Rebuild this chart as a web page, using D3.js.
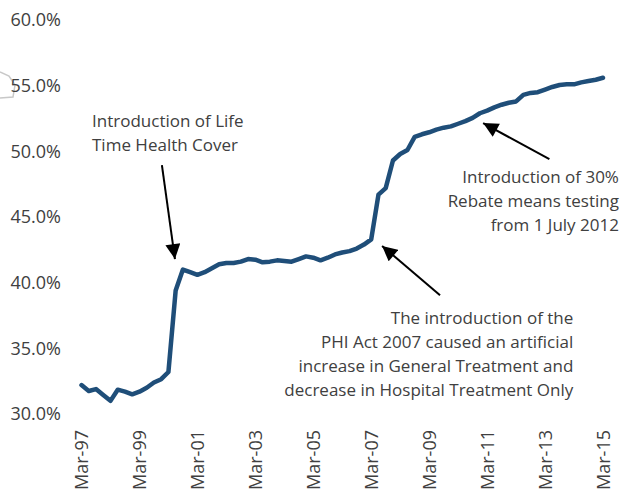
<!DOCTYPE html>
<html>
<head>
<meta charset="utf-8">
<script src="https://cdn.jsdelivr.net/npm/d3@7"></script>
<style>
  body { margin: 0; background: #fff; }
  svg text { font-family: "Open Sans", sans-serif; fill: #404040; }
</style>
</head>
<body>
<div id="chart"></div>
<script>
const width = 622, height = 496;

// quarterly categories, Mar-97 .. Mar-15
const quarters = [
  "Mar-97","Jun-97","Sep-97","Dec-97","Mar-98","Jun-98","Sep-98","Dec-98",
  "Mar-99","Jun-99","Sep-99","Dec-99","Mar-00","Jun-00","Sep-00","Dec-00",
  "Mar-01","Jun-01","Sep-01","Dec-01","Mar-02","Jun-02","Sep-02","Dec-02",
  "Mar-03","Jun-03","Sep-03","Dec-03","Mar-04","Jun-04","Sep-04","Dec-04",
  "Mar-05","Jun-05","Sep-05","Dec-05","Mar-06","Jun-06","Sep-06","Dec-06",
  "Mar-07","Jun-07","Sep-07","Dec-07","Mar-08","Jun-08","Sep-08","Dec-08",
  "Mar-09","Jun-09","Sep-09","Dec-09","Mar-10","Jun-10","Sep-10","Dec-10",
  "Mar-11","Jun-11","Sep-11","Dec-11","Mar-12","Jun-12","Sep-12","Dec-12",
  "Mar-13","Jun-13","Sep-13","Dec-13","Mar-14","Jun-14","Sep-14","Dec-14",
  "Mar-15"
];

const coverage = [
  32.2, 31.75, 31.9, 31.45, 31.0, 31.85, 31.7, 31.5,
  31.7, 32.0, 32.4, 32.65, 33.2, 39.4, 41.0, 40.8,
  40.6, 40.8, 41.1, 41.4, 41.5, 41.5, 41.6, 41.8,
  41.75, 41.55, 41.6, 41.7, 41.65, 41.6, 41.8, 42.0,
  41.9, 41.7, 41.9, 42.15, 42.3, 42.4, 42.6, 42.9,
  43.3, 46.7, 47.2, 49.3, 49.8, 50.1, 51.1, 51.3,
  51.45, 51.65, 51.8, 51.9, 52.1, 52.3, 52.55, 52.9,
  53.1, 53.35, 53.55, 53.7, 53.8, 54.3, 54.45, 54.5,
  54.7, 54.9, 55.05, 55.1, 55.1, 55.25, 55.35, 55.45,
  55.6
];

const xTicks = ["Mar-97","Mar-99","Mar-01","Mar-03","Mar-05","Mar-07","Mar-09","Mar-11","Mar-13","Mar-15"];
const yTicks = [30, 35, 40, 45, 50, 55, 60];

// annotations in data coords (quarter index, percent)
const arrows = [
  { from: [11.1, 48.95], to: [12.9, 41.8] },
  { from: [49.5, 39.05], to: [41.5, 42.8] },
  { from: [64.6, 49.4], to: [55.45, 52.15] }
];
const notes = [
  { at: [1.45, 52.3], anchor: "start", lines: ["Introduction of Life", "Time Health Cover"] },
  { at: [74.2, 48.05], anchor: "end", lines: ["Introduction of 30%", "Rebate means testing", "from 1 July 2012"] },
  { at: [67.9, 37.3], anchor: "end", lines: ["The introduction of the", "PHI Act 2007 caused an artificial",
                                             "increase in General Treatment and", "decrease in Hospital Treatment Only"] }
];

const svg = d3.select("#chart").append("svg")
  .attr("width", width)
  .attr("height", height);

const x = d3.scalePoint()
  .domain(quarters)
  .range([81.5, 603]);

const xi = d3.scaleLinear()
  .domain([0, quarters.length - 1])
  .range([81.5, 603]);

const y = d3.scaleLinear()
  .domain([30, 60])
  .range([414, 20]);

// stray shape at the left edge of the original
svg.append("path")
  .attr("d", "M0,72 L9,76 L15,85 L13,97 L0,98")
  .attr("fill", "none")
  .attr("stroke", "#c8c8c8")
  .attr("stroke-width", 1.5);

const yAxis = svg.append("g")
  .attr("transform", "translate(61,0)")
  .call(d3.axisLeft(y).tickValues(yTicks).tickSize(0).tickPadding(0)
    .tickFormat(d => d3.format(".1f")(d) + "%"));
yAxis.select(".domain").remove();
yAxis.selectAll("text")
  .style("font-size", "18px")
  .attr("fill", "#404040");

const xAxis = svg.append("g")
  .attr("transform", "translate(0,430)")
  .call(d3.axisBottom(x).tickValues(xTicks).tickSize(0).tickPadding(0));
xAxis.select(".domain").remove();
xAxis.selectAll("text")
  .style("font-size", "18px")
  .attr("fill", "#404040")
  .attr("transform", "rotate(-90)")
  .attr("text-anchor", "end")
  .attr("x", 0)
  .attr("y", 0)
  .attr("dy", "0.35em");

const line = d3.line()
  .x((d, i) => x(quarters[i]))
  .y(d => y(d));

svg.append("path")
  .datum(coverage)
  .attr("d", line)
  .attr("fill", "none")
  .attr("stroke", "#1F4E79")
  .attr("stroke-width", 4.5)
  .attr("stroke-linejoin", "round")
  .attr("stroke-linecap", "round");

svg.append("defs").append("marker")
  .attr("id", "head")
  .attr("viewBox", "0 0 10 10")
  .attr("refX", 10)
  .attr("refY", 5)
  .attr("markerWidth", 8)
  .attr("markerHeight", 7.5)
  .attr("markerUnits", "strokeWidth")
  .attr("orient", "auto")
  .append("path")
  .attr("d", "M0,0 L10,5 L0,10 Z")
  .attr("fill", "#000");

svg.selectAll("line.arrow")
  .data(arrows)
  .enter()
  .append("line")
  .attr("class", "arrow")
  .attr("x1", d => xi(d.from[0]))
  .attr("y1", d => y(d.from[1]))
  .attr("x2", d => xi(d.to[0]))
  .attr("y2", d => y(d.to[1]))
  .attr("stroke", "#000")
  .attr("stroke-width", 2)
  .attr("marker-end", "url(#head)");

notes.forEach(n => {
  const t = svg.append("text")
    .attr("text-anchor", n.anchor)
    .style("font-size", "17px");
  n.lines.forEach((s, i) => {
    t.append("tspan")
      .attr("x", xi(n.at[0]))
      .attr("y", y(n.at[1]) + i * 24)
      .attr("dy", "0.35em")
      .text(s);
  });
});
</script>
</body>
</html>
